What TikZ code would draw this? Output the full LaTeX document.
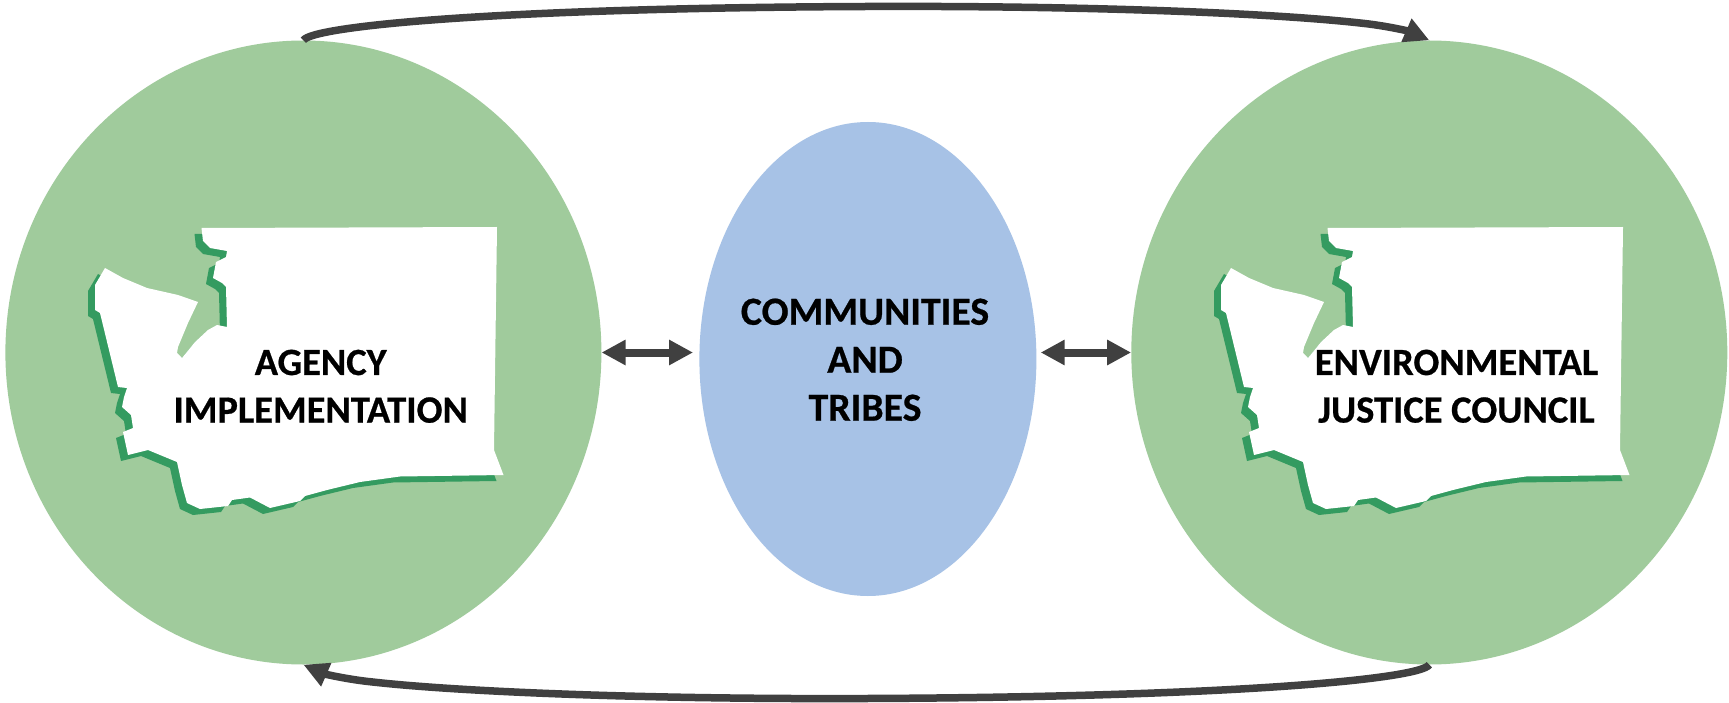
\documentclass[tikz,border=0pt]{standalone}
\usepackage{fontspec}
\usetikzlibrary{arrows.meta,shapes.geometric}
\newfontfamily\lblfamily{Carlito}[BoldFeatures={FakeBold=0.6}]
\definecolor{cgreen}{RGB}{160,203,156}
\definecolor{wadark}{RGB}{52,155,96}
\definecolor{cblue}{RGB}{167,194,230}
\definecolor{adark}{RGB}{64,64,64}
\tikzset{
  greencirc/.style={ellipse,fill=cgreen,draw=none,inner sep=0pt,minimum width=596pt,minimum height=624pt},
  bluecirc/.style={ellipse,fill=cblue,draw=none,inner sep=0pt,minimum width=337pt,minimum height=474pt},
  lbl/.style={font=\lblfamily\bfseries\fontsize{38.5}{47.6}\selectfont,align=center,inner sep=0pt},
  clbl/.style={font=\lblfamily\bfseries\fontsize{39.8}{48}\selectfont,align=center,inner sep=0pt},
  dbl/.style={draw=adark,line width=8pt,{Triangle[length=24pt,width=24pt]}-{Triangle[length=24pt,width=24pt]}},
  loopar/.style={draw=adark,line width=7.5pt,-{Triangle[length=25pt,width=24pt]}},
  wapath/.style={insert path={(201.5,228) -- (497,227) -- (494,450) -- (503.5,475) -- (400,476.5) -- (360,482)
     -- (327,490) -- (305,496) -- (300,501) -- (270,508) -- (250,497.5) -- (232,500) -- (228,506) -- (200,509)
     -- (187,503) -- (182,485) -- (177,462) -- (148,450) -- (128,455) -- (123,432) -- (133,428) -- (131,415)
     -- (122,407) -- (124,397) -- (127,388) -- (118,387) -- (100,313) -- (95,310) -- (95,285) -- (105,268)
     -- (123,278) -- (147,288) -- (178,295) -- (198,302) -- (188,323) -- (178,347) -- (177,353) -- (182,358)
     -- (195,342) -- (208,330) -- (217,325) -- (227,327) -- (226,287) -- (222,283) -- (213,278) -- (216,262)
     -- (226,257) -- (227,251) -- (210,248) -- (203,241) -- cycle}},
  wapatch/.style={insert path={(198,302) -- (188,323) -- (178,347) -- (177,353) -- (182,358) -- (195,342)
     -- (208,330) -- (217,325) -- (214,318) -- (205,305) -- cycle}}
}
\newcommand\waState[1]{%
  \begin{scope}[shift={(#1,0)}]
    \fill[wadark,shift={(-7,6)},wapath];
    \fill[cgreen,wapatch];
    \fill[white,wapath];
  \end{scope}}
\begin{document}
\begin{tikzpicture}[x=1pt,y=-1pt]
  \useasboundingbox[fill=white] (0,0) rectangle (1729,703);
  \node[greencirc] (L) at (303.4,352.5) {};
  \node[greencirc] (R) at (1429.3,352.5) {};
  \node[bluecirc] (C) at (867.9,359) {};
  \waState{0}
  \waState{1126}
  \node[lbl] (txtA) at (320.7,386.3) {AGENCY\\IMPLEMENTATION};
  \node[lbl] (txtE) at (1456.5,386.3) {ENVIRONMENTAL\\JUSTICE COUNCIL};
  \node[clbl] (txtC) at (865,359.8) {COMMUNITIES\\AND\\TRIBES};
  \coordinate (cl) at (693,352.5);
  \coordinate (cr) at (1040.7,352.5);
  \draw[dbl] (L.east) -- (cl);
  \draw[dbl] (cr) -- (R.west);
  \draw[loopar] (L.north) .. controls (312,26) and (500,8) .. (866,6.5)
     .. controls (1100,5.5) and (1280,14) .. (1360,23)
     .. controls (1385,25.5) and (1408,31) .. (R.north);
  \draw[loopar] (R.south) .. controls (1420.7,679) and (1232.7,697) .. (866.7,698.5)
     .. controls (632.7,699.5) and (452.7,691) .. (372.7,682)
     .. controls (347.7,679.5) and (324.7,674) .. (L.south);
\end{tikzpicture}
\end{document}
